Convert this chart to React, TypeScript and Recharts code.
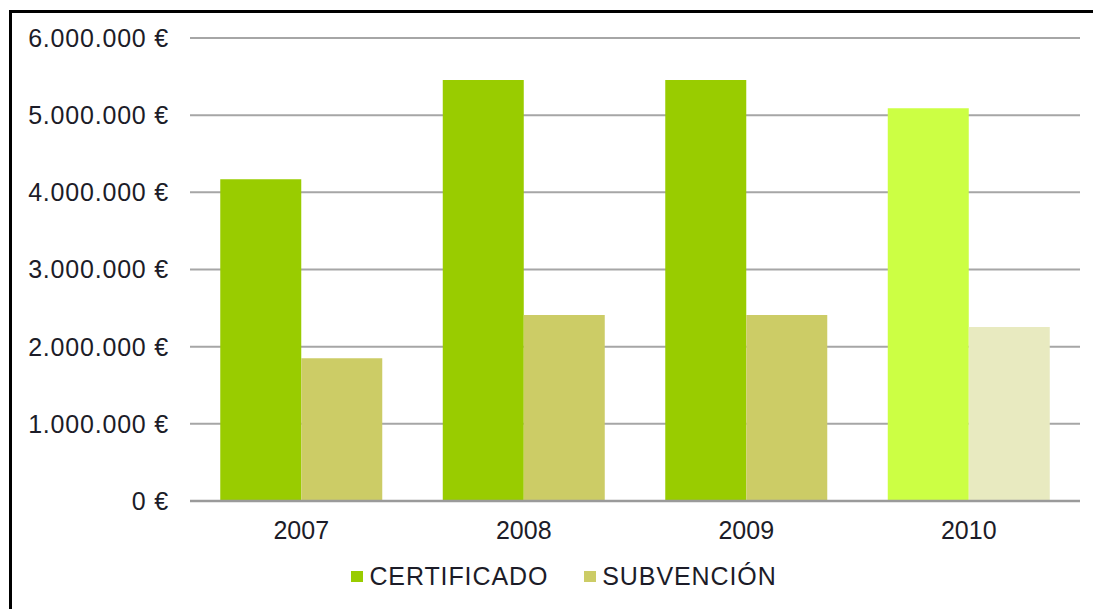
import React from 'react';
import { BarChart, Bar, XAxis, YAxis, CartesianGrid, Legend, Cell } from 'recharts';

const YEARS = ['2007', '2008', '2009', '2010'];
const CERTIFICADO = [4170000, 5455000, 5455000, 5090000];
const SUBVENCION = [1850000, 2410000, 2410000, 2255000];
const Y_TICKS = [0, 1000000, 2000000, 3000000, 4000000, 5000000, 6000000];

const CERT_COLORS = ['#99CC00', '#99CC00', '#99CC00', '#CCFF44'];
const SUB_COLORS = ['#CCCC66', '#CCCC66', '#CCCC66', '#E8EAC0'];

const data = YEARS.map((year, i) => ({
    year,
    certificado: CERTIFICADO[i],
    subvencion: SUBVENCION[i],
}));

const FONT = '"Liberation Sans", Arial, sans-serif';
const TEXT = '#1c1c28';

const euro = (v: number) => `${String(v).replace(/\B(?=(\d{3})+(?!\d))/g, '.')} €`;

const LegendContent = (props: any) => {
    const items = props.payload || [];
    return (
        <div style={{ display: 'flex', justifyContent: 'center', fontFamily: FONT, fontSize: 25, color: TEXT }}>
            {items.map((item: any, i: number) => (
                <div key={i} style={{ display: 'flex', alignItems: 'center', marginLeft: i ? 36 : 0 }}>
                    <span style={{ width: 12, height: 11, background: item.color, display: 'inline-block', marginRight: 6 }} />
                    <span style={{ letterSpacing: 0.9 }}>{item.value}</span>
                </div>
            ))}
        </div>
    );
};

export default function App() {
    return (
        <div style={{ position: 'absolute', left: 0, top: 0, width: 1093, height: 609, background: '#fff', overflow: 'hidden' }}>
            <div
                style={{
                    position: 'absolute',
                    left: 9,
                    top: 10,
                    right: 0,
                    bottom: 0,
                    borderTop: '3px solid #000',
                    borderLeft: '3px solid #000',
                }}
            />
            <BarChart
                width={1093}
                height={609}
                data={data}
                margin={{ top: 38, right: 13, left: 0, bottom: 68 }}
                barCategoryGap="13.6%"
                barGap={0}
                style={{ position: 'absolute', left: 0, top: 0 }}
            >
                <CartesianGrid horizontal vertical={false} stroke="#a6a6a6" strokeWidth={2} />
                <XAxis
                    dataKey="year"
                    height={40}
                    tickLine={false}
                    tickSize={0}
                    tickMargin={20}
                    axisLine={{ stroke: '#9a9a9a', strokeWidth: 2.5 }}
                    tick={{ fill: TEXT, fontSize: 25, fontFamily: FONT }}
                />
                <YAxis
                    width={190}
                    domain={[0, 6000000]}
                    ticks={Y_TICKS}
                    interval={0}
                    tickFormatter={euro}
                    axisLine={false}
                    tickLine={false}
                    tickSize={0}
                    tickMargin={21}
                    tick={{ fill: TEXT, fontSize: 25, fontFamily: FONT, letterSpacing: 0.8 }}
                />
                <Legend
                    verticalAlign="middle"
                    align="center"
                    content={<LegendContent />}
                    wrapperStyle={{ top: 562, left: 0, width: 1128 }}
                />
                <Bar dataKey="certificado" name="CERTIFICADO" fill="#99CC00" isAnimationActive={false}>
                    {data.map((_, i) => (
                        <Cell key={`c-${i}`} fill={CERT_COLORS[i]} />
                    ))}
                </Bar>
                <Bar dataKey="subvencion" name="SUBVENCIÓN" fill="#CCCC66" isAnimationActive={false}>
                    {data.map((_, i) => (
                        <Cell key={`s-${i}`} fill={SUB_COLORS[i]} />
                    ))}
                </Bar>
            </BarChart>
        </div>
    );
}
